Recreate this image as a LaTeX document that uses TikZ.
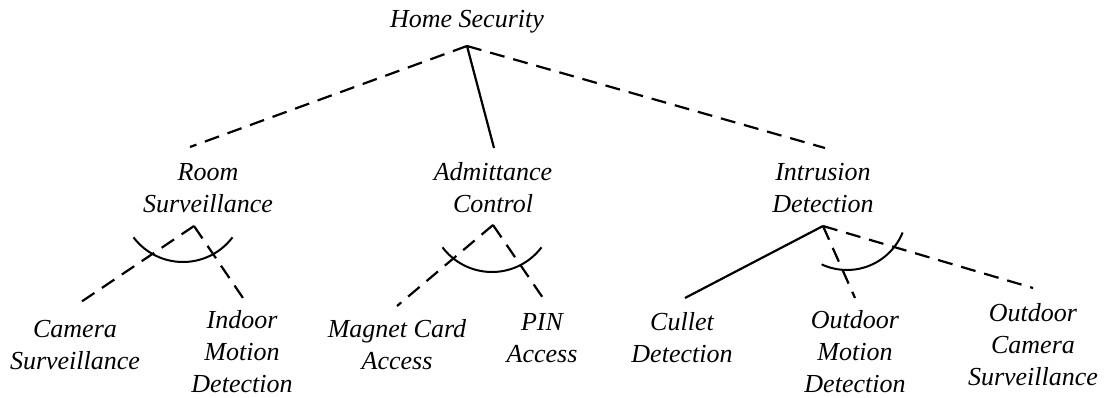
\documentclass[tikz,border=0pt]{standalone}
\usepackage{fontspec}
\setmainfont{Liberation Serif}
\begin{document}
\begin{tikzpicture}[x=1pt,y=-1pt,
  label/.style={align=center,inner sep=0pt,font=\fontsize{26}{32}\selectfont\itshape},
  opt/.style={line width=2.2pt,dash pattern=on 15pt off 9pt},
  mand/.style={line width=2.2pt},
  alt/.style={line width=2pt}]
\useasboundingbox (0,0) rectangle (1104,397);

% feature labels
\node[label] (hs) at (467,22) {Home Security};
\node[label] (rs) at (208,188) {Room\\Surveillance};
\node[label] (ac) at (493,188) {Admittance\\Control};
\node[label] (id) at (823,188) {Intrusion\\Detection};
\node[label] (cs) at (75,345) {Camera\\Surveillance};
\node[label] (im) at (242,352) {Indoor\\Motion\\Detection};
\node[label] (mc) at (397,345) {Magnet Card\\Access};
\node[label] (pin) at (542,338) {PIN\\Access};
\node[label] (cd) at (682,338) {Cullet\\Detection};
\node[label] (om) at (855,352) {Outdoor\\Motion\\Detection};
\node[label] (oc) at (1033,345) {Outdoor\\Camera\\Surveillance};

% attachment points below parents and above children
\coordinate (hs-b) at (467,46);
\coordinate (rs-t) at (190,147);
\coordinate (ac-t) at (494,148);
\coordinate (id-t) at (825,148);
\coordinate (rs-b) at (194,226);
\coordinate (ac-b) at (493,225);
\coordinate (id-b) at (823,226);
\coordinate (cs-t) at (78,304);
\coordinate (im-t) at (243,298);
\coordinate (mc-t) at (397,306);
\coordinate (pin-t) at (543,298);
\coordinate (cd-t) at (685,298);
\coordinate (om-t) at (855,298);
\coordinate (oc-t) at (1033,288);

% first level
\draw[opt] (hs-b) -- (rs-t);
\draw[mand] (hs-b) -- (ac-t);
\draw[opt] (hs-b) -- (id-t);

% room surveillance group
\draw[opt] (rs-b) -- (cs-t);
\draw[opt] (rs-b) -- (im-t);
\draw[alt] (183,200) ++(37:62) arc[start angle=37,end angle=143,radius=62];

% admittance control group
\draw[opt] (ac-b) -- (mc-t);
\draw[opt] (ac-b) -- (pin-t);
\draw[alt] (492,210) ++(37:62) arc[start angle=37,end angle=143,radius=62];

% intrusion detection group
\draw[mand] (id-b) -- (cd-t);
\draw[opt] (id-b) -- (om-t);
\draw[opt] (id-b) -- (oc-t);
\draw[alt] (847,210) ++(22:60) arc[start angle=22,end angle=115,radius=60];
\end{tikzpicture}
\end{document}
